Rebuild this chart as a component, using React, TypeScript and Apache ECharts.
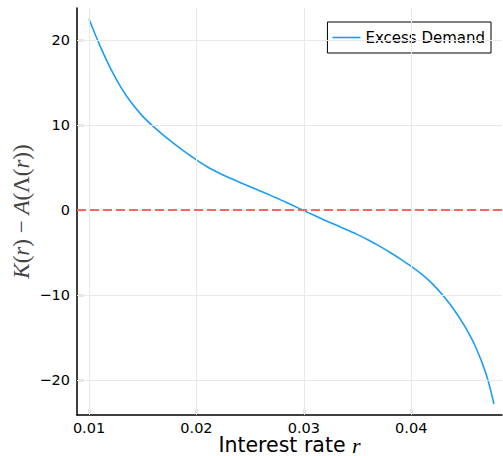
import React, { useEffect, useRef } from "react";
import * as echarts from "echarts";

const rValues = [
  0.010, 0.011, 0.012, 0.013, 0.014, 0.015, 0.016, 0.017, 0.018, 0.019,
  0.020, 0.021, 0.022, 0.023, 0.024, 0.025, 0.026, 0.027, 0.028, 0.029,
  0.030, 0.031, 0.032, 0.033, 0.034, 0.035, 0.036, 0.037, 0.038, 0.039,
  0.040, 0.041, 0.042, 0.043, 0.044, 0.045, 0.046, 0.047, 0.0477,
];
const excessDemand = [
  22.5, 19.4, 16.7, 14.4, 12.55, 11.05, 9.84, 8.76, 7.76, 6.82,
  5.93, 5.12, 4.45, 3.85, 3.3, 2.77, 2.24, 1.69, 1.13, 0.55,
  -0.05, -0.63, -1.2, -1.75, -2.3, -2.87, -3.5, -4.2, -4.95, -5.75,
  -6.6, -7.55, -8.7, -10.1, -11.75, -13.7, -16.1, -19.4, -22.8,
];
const xTicks = [0.01, 0.02, 0.03, 0.04];
const yTicks = [-20, -10, 0, 10, 20];
const xRange = [0.00888, 0.04845];
const yRange = [-24.1, 23.8];

const FONT = "DejaVu Sans";
const MATH = "Liberation Serif";

export default function App() {
  const ref = useRef<HTMLDivElement>(null);
  useEffect(() => {
    if (!ref.current) return;
    const chart = echarts.init(ref.current, null, { renderer: "svg" });
    const gridStyle = { color: "#e9e9e9", width: 1, type: "solid" as const };
    chart.setOption({
      animation: false,
      backgroundColor: "#ffffff",
      grid: { left: 77, right: 1, top: 8, bottom: 41, containLabel: false, outerBoundsMode: "none" },
      legend: {
        data: ["Excess Demand"],
        right: 12,
        top: 22,
        orient: "vertical",
        backgroundColor: "#ffffff",
        borderColor: "#000000",
        borderWidth: 1,
        padding: [8, 6, 8, 5],
        icon: "rect",
        itemWidth: 28,
        itemHeight: 1.6,
        textStyle: { fontFamily: FONT, fontSize: 15, color: "#000" },
      },
      xAxis: {
        type: "value",
        min: xRange[0],
        max: xRange[1],
        name: "{a|Interest rate }{b|r}",
        nameLocation: "middle",
        nameGap: 21,
        nameMoveOverlap: false,
        nameTextStyle: {
          verticalAlign: "top",
          lineHeight: 18,
          rich: {
            a: { fontFamily: FONT, fontSize: 20.5, lineHeight: 18, color: "#000" },
            b: { fontFamily: MATH, fontStyle: "italic", fontSize: 22, lineHeight: 18, color: "#000" },
          },
        },
        axisLine: { show: true, onZero: false, lineStyle: { color: "#000", width: 1.5 } },
        axisTick: { show: true, inside: true, length: 6, customValues: xTicks, lineStyle: { color: "#000", width: 1.2 } },
        axisLabel: {
          customValues: xTicks,
          margin: 6,
          lineHeight: 14,
          fontFamily: FONT,
          fontSize: 14.5,
          color: "#000",
          formatter: (v: number) => v.toFixed(2),
        },
        splitLine: { show: false },
      },
      yAxis: {
        type: "value",
        min: yRange[0],
        max: yRange[1],
        name: "{i|K}{n|(}{i|r}{n|) − }{i|A}{n|(Λ(}{i|r}{n|))}",
        nameLocation: "middle",
        nameGap: 44,
        nameRotate: 90,
        nameMoveOverlap: false,
        nameTextStyle: {
          rich: {
            i: { fontFamily: MATH, fontStyle: "italic", fontSize: 23, color: "#444" },
            n: { fontFamily: MATH, fontSize: 23, color: "#444" },
          },
        },
        axisLine: { show: true, onZero: false, lineStyle: { color: "#000", width: 1.5 } },
        axisTick: { show: true, inside: true, length: 7, customValues: yTicks, lineStyle: { color: "#000", width: 1.2 } },
        axisLabel: {
          customValues: yTicks,
          margin: 7,
          fontFamily: FONT,
          fontSize: 14.5,
          color: "#000",
          formatter: (v: number) => String(v).replace("-", "\u2212"),
        },
        splitLine: { show: false },
      },
      series: [
        {
          name: "grid",
          type: "line",
          data: [],
          silent: true,
          z: 1,
          markLine: {
            silent: true,
            symbol: "none",
            label: { show: false },
            lineStyle: gridStyle,
            data: [
              ...xTicks.map((x) => ({ xAxis: x })),
              ...yTicks.map((y) => ({ yAxis: y })),
            ],
          },
        },
        {
          name: "zero",
          type: "line",
          data: [],
          silent: true,
          z: 3,
          markLine: {
            silent: true,
            symbol: "none",
            label: { show: false },
            lineStyle: { color: "#ff5555", opacity: 0.9, width: 2, type: [9, 4] },
            data: [{ yAxis: 0 }],
          },
        },
        {
          name: "Excess Demand",
          type: "line",
          z: 2,
          showSymbol: false,
          symbol: "none",
          smooth: 0.3,
          color: "#1a9ef5",
          lineStyle: { color: "#1a9ef5", width: 1.6 },
          data: rValues.map((r, i) => [r, excessDemand[i]]),
        },
      ],
    });
    return () => chart.dispose();
  }, []);
  return (
    <div
      ref={ref}
      style={{ position: "fixed", left: 0, top: 0, width: 503, height: 456 }}
    />
  );
}
